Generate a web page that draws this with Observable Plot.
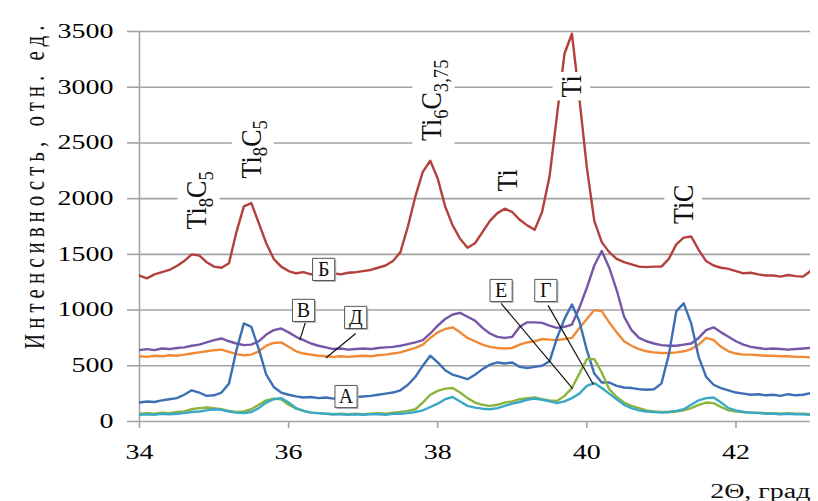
<!DOCTYPE html>
<html><head><meta charset="utf-8">
<script src="https://cdn.jsdelivr.net/npm/d3@7"></script>
<script src="https://cdn.jsdelivr.net/npm/@observablehq/plot@0.6"></script>
<style>
body{margin:0;background:#fff}
#chart svg text{font-family:"Liberation Serif","Times New Roman",serif !important;}
</style>
</head><body><div id="chart"></div>
<script>
// 2θ grid (degrees), step 0.1 from 34 to 43
const twoTheta = d3.range(91).map(i => +(34 + i / 10).toFixed(1));

const serB = [1310,1285,1320,1340,1360,1395,1440,1500,1490,1430,
  1390,1380,1420,1700,1930,1960,1780,1600,1460,1390,
  1350,1330,1340,1320,1335,1330,1330,1320,1335,1340,
  1350,1360,1380,1400,1440,1520,1750,2020,2240,2340,
  2180,1930,1760,1640,1560,1600,1700,1800,1870,1910,
  1880,1810,1760,1720,1880,2200,2750,3300,3480,2900,
  2280,1800,1610,1520,1460,1430,1410,1390,1385,1390,
  1390,1460,1590,1650,1660,1540,1440,1400,1380,1370,
  1350,1330,1335,1320,1310,1310,1300,1315,1305,1300,1350];
const serV = [640,650,640,655,650,660,665,680,690,710,
  730,745,720,700,685,690,720,780,820,835,
  800,760,730,700,680,665,650,655,645,650,
  655,650,660,665,670,680,695,710,730,790,
  860,920,960,975,940,905,840,790,760,750,
  760,850,890,890,885,860,840,850,870,1020,
  1200,1400,1530,1380,1180,940,820,750,720,700,
  685,680,680,690,700,750,820,845,800,760,
  720,690,670,660,650,655,650,645,650,655,660];
const serD = [585,580,590,585,595,590,600,610,620,630,
  640,645,625,605,595,600,630,680,705,710,
  670,630,610,600,590,585,580,585,580,585,
  590,585,595,600,610,620,640,660,690,750,
  800,830,845,800,750,720,690,670,660,655,
  660,690,710,720,740,735,730,740,750,840,
  920,1000,990,890,800,720,680,650,630,620,
  615,615,620,630,650,690,750,730,670,630,
  610,600,600,595,590,590,585,585,580,580,575];
const serA = [170,180,175,190,200,210,240,280,260,230,
  235,260,340,640,880,850,650,420,310,260,
  240,225,215,220,210,215,205,220,215,220,
  225,230,240,250,260,280,330,400,500,590,
  530,460,420,400,380,420,470,510,530,520,
  530,490,480,490,500,540,750,920,1050,900,
  640,430,350,350,320,305,300,290,285,290,
  340,600,990,1060,880,580,400,330,300,280,
  260,250,240,245,235,240,230,245,235,240,255];
const serG = [70,75,70,80,75,85,90,110,120,125,
  120,110,95,85,90,110,150,190,205,200,
  150,115,95,80,75,70,65,70,65,70,
  65,70,75,70,80,85,95,110,170,240,
  275,295,300,260,210,170,150,140,150,170,
  180,200,210,215,200,190,185,230,300,430,
  560,560,440,290,220,170,140,120,100,90,
  85,85,90,100,120,150,170,165,130,100,
  90,85,80,80,75,75,70,75,70,70,65];
const serE = [60,65,60,70,65,70,75,85,90,100,
  110,105,90,80,75,85,120,170,200,210,
  170,120,95,80,75,70,65,65,60,65,
  60,65,65,60,70,70,75,85,100,130,
  160,200,220,180,140,125,115,110,120,140,
  160,175,195,205,195,180,165,180,210,250,
  320,345,300,250,200,150,120,100,90,85,
  80,85,95,110,150,190,210,215,170,120,
  100,85,80,75,70,70,65,70,65,65,60];

const seriesNames = ["Б","В","Д","А","Г","Е"];
const seriesColors = ["#b3403c","#7656a6","#f08a36","#3c6fb4","#8cb43e","#3aa8c6"];
const seriesValues = [serB, serV, serD, serA, serG, serE];

const yTicks = [0,500,1000,1500,2000,2500,3000,3500];
const xTicks = [34,36,38,40,42];

// curve tags (boxes)
const boxKeys = ["Б","В","Д","А","Е","Г"];
const boxX = [36.47, 36.2, 36.9, 36.77, 38.85, 39.45];
const boxY = [1365, 997, 934, 224, 1176, 1176];
// leader lines
const leadX1 = [36.23, 36.9, 38.85, 39.48];
const leadY1 = [900, 790, 1060, 1042];
const leadX2 = [36.15, 36.5, 39.81, 40.09];
const leadY2 = [730, 570, 296, 330];
// phase labels
const peakText = ["Ti8C5","Ti8C5","Ti6C3,75","Ti","Ti","TiC"];
const peakX = [34.77, 35.5, 37.92, 38.93, 39.8, 41.3];
const peakY = [1985, 2443, 2883, 2164, 3008, 1949];

const yTitle = "Интенсивность, отн. ед.";
const xTitle = "2Θ, град";

const grid = "#a3a3a3";

const lineMarks = seriesValues.map((vals, k) =>
  Plot.line(twoTheta.map((x, i) => ({x, y: vals[i]})), {x: "x", y: "y", stroke: seriesColors[k], strokeWidth: 2.4, clip: true})
);
const boxes = boxKeys.map((k, i) => ({k, x: boxX[i], y: boxY[i]}));
const leads = leadX1.map((v, i) => ({x1: v, y1: leadY1[i], x2: leadX2[i], y2: leadY2[i]}));
const peaks = peakText.map((t, i) => ({t, x: peakX[i], y: peakY[i]}));

const chart = Plot.plot({
  width: 818, height: 501,
  marginLeft: 139, marginRight: 8, marginTop: 31, marginBottom: 80,
  x: {domain: [34, 43], axis: null},
  y: {domain: [0, 3500], axis: null},
  style: {background: "white", color: "black"},
  marks: [
    Plot.ruleY(yTicks, {stroke: grid, strokeWidth: 1.6}),
    Plot.ruleX([34], {stroke: grid, strokeWidth: 1.6}),
    Plot.axisY(yTicks, {tickSize: 12, tickPadding: 14, stroke: grid, strokeWidth: 1.6, tickFormat: d => String(d), label: null}),
    Plot.axisX(xTicks, {tickSize: 7, tickPadding: 16, stroke: grid, strokeWidth: 1.6, tickFormat: d => String(d), label: null}),
    ...lineMarks,
    Plot.link(leads, {x1: "x1", y1: "y1", x2: "x2", y2: "y2", stroke: "#111", strokeWidth: 1.2}),
    Plot.dot(boxes, {x: "x", y: "y", symbol: "square", r: 12.5, fill: "#bbb", stroke: "none", dx: 1.5, dy: 1.5}),
    Plot.dot(boxes, {x: "x", y: "y", symbol: "square", r: 12.5, fill: "white", stroke: "#555", strokeWidth: 1}),
    Plot.text(boxes, {x: "x", y: "y", text: "k", fontSize: 20, fill: "#111"}),
    Plot.text(peaks, {x: "x", y: "y", text: "t", rotate: -90, fontSize: 26, fill: "#111"}),
    Plot.text([yTitle], {frameAnchor: "top-left", rotate: -90, textAnchor: "end", dx: -116, dy: -11, fontSize: 21, fill: "#111"}),
    Plot.text([xTitle], {frameAnchor: "bottom-right", textAnchor: "end", lineAnchor: "bottom", dy: 76, fontSize: 20, fill: "#111"})
  ]
});
document.getElementById("chart").appendChild(chart);

function stretch(el, s) {
  const t = el.getAttribute("transform") || "";
  const m = t.match(/^\s*(translate\([^)]*\))(.*)$/);
  if (m) el.setAttribute("transform", `${m[1]} scale(${s},1)${m[2]}`);
  else {
    const x = +el.getAttribute("x") || 0, y = +el.getAttribute("y") || 0;
    el.removeAttribute("x"); el.removeAttribute("y");
    el.setAttribute("transform", `translate(${x},${y}) scale(${s},1) ${t}`);
  }
}
const SVGNS = "http://www.w3.org/2000/svg";
const axisTexts = [...chart.querySelectorAll('g[aria-label="y-axis tick label"] text, g[aria-label="x-axis tick label"] text')];
axisTexts.forEach(e => { e.style.fontSize = "20px"; stretch(e, 1.4); });
const allTexts = [...chart.querySelectorAll("text")];
allTexts.forEach(e => {
  const c = e.textContent;
  if (c === xTitle) { e.style.fontSize = "20px"; stretch(e, 1.4); }
  else if (c === yTitle) { e.style.fontSize = "21px"; e.style.letterSpacing = "5px"; stretch(e, 1.4); }
  else if (boxKeys.includes(c) && !axisTexts.includes(e)) { e.style.fontSize = "20px"; }
  else if (peakText.includes(c)) {
    e.style.fontSize = "26px";
    const parts = c.split(/(\d[\d,]*)/).filter(p => p);
    e.textContent = "";
    let sub = false;
    parts.forEach(p => {
      const isSub = /^\d/.test(p);
      const ts = document.createElementNS(SVGNS, "tspan");
      ts.textContent = p;
      if (isSub) { ts.setAttribute("font-size", "0.72em"); ts.setAttribute("dy", "0.3em"); }
      else if (sub) { ts.setAttribute("dy", "-0.216em"); }
      sub = isSub;
      e.appendChild(ts);
    });
    stretch(e, 1.15);
    const b = e.getBBox();
    const r = document.createElementNS(SVGNS, "rect");
    r.setAttribute("x", b.x - 3); r.setAttribute("y", b.y - 2);
    r.setAttribute("width", b.width + 6); r.setAttribute("height", b.height + 4);
    r.setAttribute("fill", "white");
    r.setAttribute("transform", e.getAttribute("transform"));
    e.parentNode.insertBefore(r, e);
  }
});
</script>
</body></html>
